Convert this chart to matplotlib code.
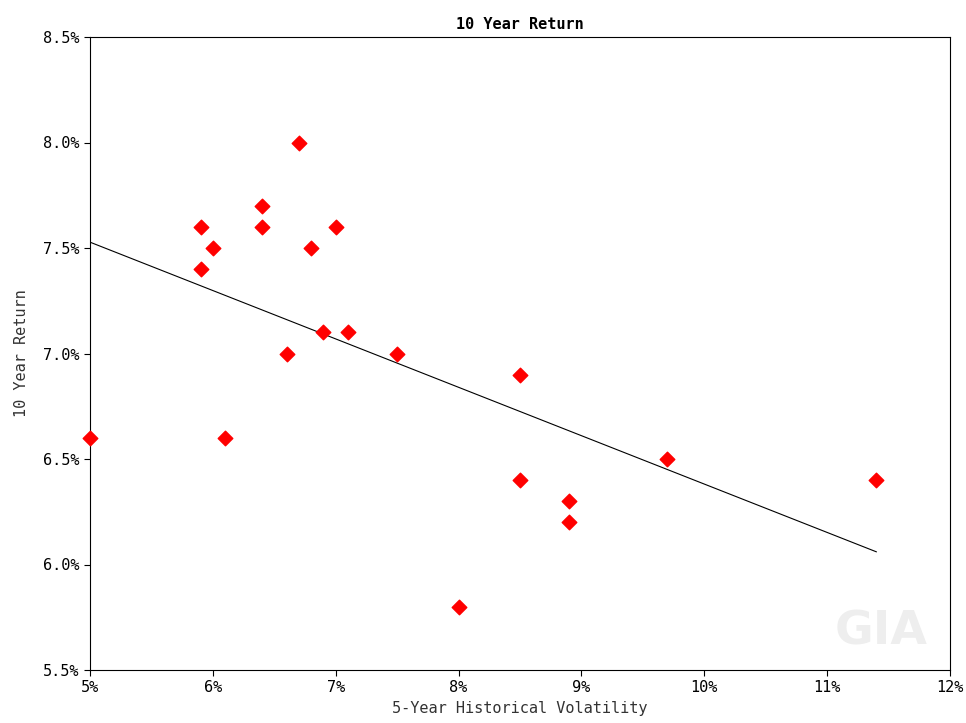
import matplotlib
matplotlib.use("Agg")
import matplotlib.pyplot as plt
import numpy as np

# volatility (%) and 10 year return (%)
volatility = [5.0, 5.9, 5.9, 6.0, 6.1, 6.4, 6.4, 6.6, 6.7, 6.8, 6.9,
              7.0, 7.1, 7.5, 8.0, 8.5, 8.5, 8.9, 8.9, 9.7, 11.4]
returns = [6.6, 7.6, 7.4, 7.5, 6.6, 7.7, 7.6, 7.0, 8.0, 7.5, 7.1,
           7.6, 7.1, 7.0, 5.8, 6.9, 6.4, 6.3, 6.2, 6.5, 6.4]

x_ticks = [5, 6, 7, 8, 9, 10, 11, 12]
y_ticks = [5.5, 6.0, 6.5, 7.0, 7.5, 8.0, 8.5]

plt.rcParams['font.family'] = ['DejaVu Sans Mono']

fig = plt.figure(figsize=(9.66, 7.23), dpi=100)
ax = fig.add_axes([90/966, 1-670/723, 860/966, 633/723])

ax.scatter(volatility, returns, marker='D', s=55, color='#ff0000', zorder=3, clip_on=False)

# least squares trend line
slope, icpt = np.polyfit(volatility, returns, 1)
xs = np.array([min(volatility), max(volatility)])
ax.plot(xs, slope*xs + icpt, color='black', lw=0.8)

ax.set_xlim(5, 12)
ax.set_ylim(5.5, 8.5)
ax.set_xticks(x_ticks)
ax.set_xticklabels([f"{t}%" for t in x_ticks])
ax.set_yticks(y_ticks)
ax.set_yticklabels([f"{t:.1f}%" for t in y_ticks])
ax.tick_params(labelsize=11, direction='out', length=4)
ax.set_title("10 Year Return", fontsize=11, fontweight='bold', pad=6)
ax.set_xlabel("5-Year Historical Volatility", fontsize=11, labelpad=4, color='#333333')
ax.set_ylabel("10 Year Return", fontsize=11, labelpad=10, color='#333333')

ax.text(0.92, 0.06, "GIA", transform=ax.transAxes, fontsize=34, fontweight='bold',
        color='#eeeeee', family='DejaVu Sans', ha='center', va='center', zorder=0)

fig.savefig("out.png", dpi=100)
